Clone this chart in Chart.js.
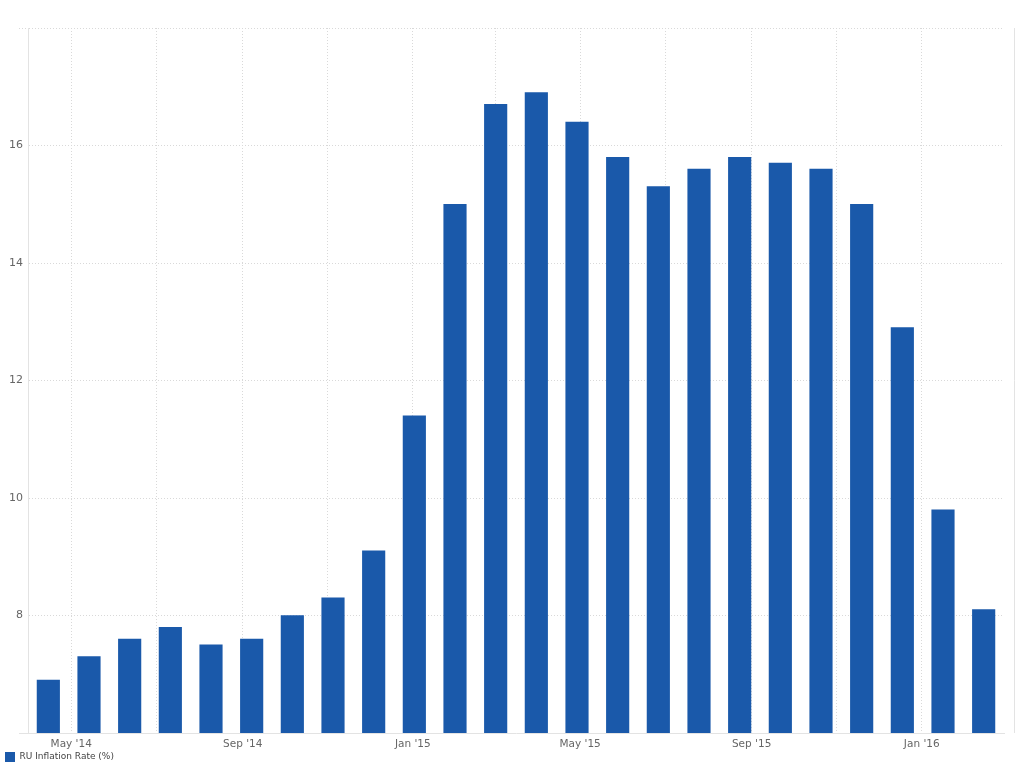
<!DOCTYPE html>
<html>
<head>
<meta charset="utf-8">
<script src="https://cdn.jsdelivr.net/npm/chart.js@4.4.1/dist/chart.umd.min.js"></script>
<style>
    html, body { margin: 0; padding: 0; background: #fff; }
    #wrap { width: 1024px; height: 768px; position: relative; }
</style>
</head>
<body>
<div id="wrap"><canvas id="inflation-chart"></canvas></div>
<script>
// Monthly readings, Mar 2014 .. Feb 2016
const months = [
    'Mar 2014', 'Apr 2014', 'May 2014', 'Jun 2014', 'Jul 2014', 'Aug 2014',
    'Sep 2014', 'Oct 2014', 'Nov 2014', 'Dec 2014', 'Jan 2015', 'Feb 2015',
    'Mar 2015', 'Apr 2015', 'May 2015', 'Jun 2015', 'Jul 2015', 'Aug 2015',
    'Sep 2015', 'Oct 2015', 'Nov 2015', 'Dec 2015', 'Jan 2016', 'Feb 2016'
];
const inflation = [
    6.9, 7.3, 7.6, 7.8, 7.5, 7.6, 8.0, 8.3, 9.1, 11.4, 15.0, 16.7,
    16.9, 16.4, 15.8, 15.3, 15.6, 15.8, 15.7, 15.6, 15.0, 12.9, 9.8, 8.1
];
const seriesName = 'RU Inflation Rate (%)';

// date gridlines along the bottom (every 2 months), label on every other one
const gridMonths = [
    '2014-05', '2014-07', '2014-09', '2014-11', '2015-01', '2015-03',
    '2015-05', '2015-07', '2015-09', '2015-11', '2016-01'
];
const tickLabels = ["May '14", '', "Sep '14", '', "Jan '15", '', "May '15", '', "Sep '15", '', "Jan '16"];

const yTicks = [6, 8, 10, 12, 14, 16, 18];

const BAR = '#1a59aa';
const TEXT = '#666666';
const GRID = '#d9d9d9';
const LINE = '#e3e3e3';
const DOTS = [1, 2];

// days counted from 1 May 2014
const dayOf = (ym) => {
    const [y, m] = ym.split('-').map(Number);
    return Math.round((Date.UTC(y, m - 1, 1) - Date.UTC(2014, 4, 1)) / 86400000);
};
const gridDays = gridMonths.map(dayOf);

// right edge rule plus the short left stubs of top/bottom lines
const frameLines = {
    id: 'frameLines',
    afterLayout(chart) {
        // axis box is squeezed to let the legend sit close; don't clip its labels
        chart.scales.xDate.bottom += 8;
    },
    afterDraw(chart) {
        const { ctx, chartArea } = chart;
        ctx.save();
        ctx.lineWidth = 1;
        ctx.strokeStyle = LINE;
        ctx.beginPath();
        ctx.moveTo(chartArea.right + 10.5, chartArea.top);
        ctx.lineTo(chartArea.right + 10.5, chartArea.bottom);
        ctx.moveTo(chartArea.left - 9, chartArea.bottom + 0.5);
        ctx.lineTo(chartArea.left, chartArea.bottom + 0.5);
        ctx.stroke();
        ctx.strokeStyle = GRID;
        ctx.setLineDash(DOTS);
        ctx.beginPath();
        ctx.moveTo(chartArea.left - 9, chartArea.top + 0.5);
        ctx.lineTo(chartArea.left, chartArea.top + 0.5);
        ctx.stroke();
        ctx.restore();
    }
};

Chart.defaults.font.family = '"DejaVu Sans", sans-serif';
Chart.defaults.color = TEXT;

new Chart(document.getElementById('inflation-chart').getContext('2d'), {
    type: 'bar',
    data: {
        labels: months,
        datasets: [{
            label: seriesName,
            data: inflation,
            backgroundColor: BAR,
            borderWidth: 0,
            barThickness: 22.5,
            xAxisID: 'x',
            yAxisID: 'y'
        }]
    },
    options: {
        responsive: true,
        maintainAspectRatio: false,
        animation: false,
        // legend sits a little lower than the default layout allows
        layout: { padding: { top: 28, right: 20, left: 0, bottom: -4 } },
        plugins: {
            legend: {
                position: 'bottom',
                align: 'start',
                labels: {
                    boxWidth: 10,
                    boxHeight: 10,
                    padding: 5,
                    color: '#444',
                    font: { size: 9 }
                }
            },
            tooltip: { enabled: false }
        },
        scales: {
            x: {
                display: false,
                offset: true
            },
            xDate: {
                type: 'linear',
                position: 'bottom',
                offset: false,
                min: -31,   // ~1 Apr 2014
                max: 669,   // ~1 Mar 2016
                afterBuildTicks: (scale) => {
                    scale.ticks = gridDays.map(v => ({ value: v }));
                },
                afterFit: (scale) => { scale.height = 14; },
                grid: {
                    color: GRID,
                    offset: false,
                    drawTicks: false
                },
                border: { color: LINE, dash: DOTS },
                ticks: {
                    autoSkip: false,
                    maxRotation: 0,
                    padding: 5,
                    font: { size: 10.5 },
                    callback: (v, i) => tickLabels[i]
                }
            },
            y: {
                min: 6,
                max: 18,
                afterBuildTicks: (scale) => {
                    scale.ticks = yTicks.map(v => ({ value: v }));
                },
                afterFit: (scale) => { scale.width = 28; },
                grid: {
                    color: GRID,
                    drawTicks: false
                },
                border: { color: LINE, dash: DOTS },
                ticks: {
                    padding: 5,
                    font: { size: 11 },
                    callback: (v) => (v === 6 || v === 18) ? '' : v
                }
            }
        }
    },
    plugins: [frameLines]
});
</script>
</body>
</html>
